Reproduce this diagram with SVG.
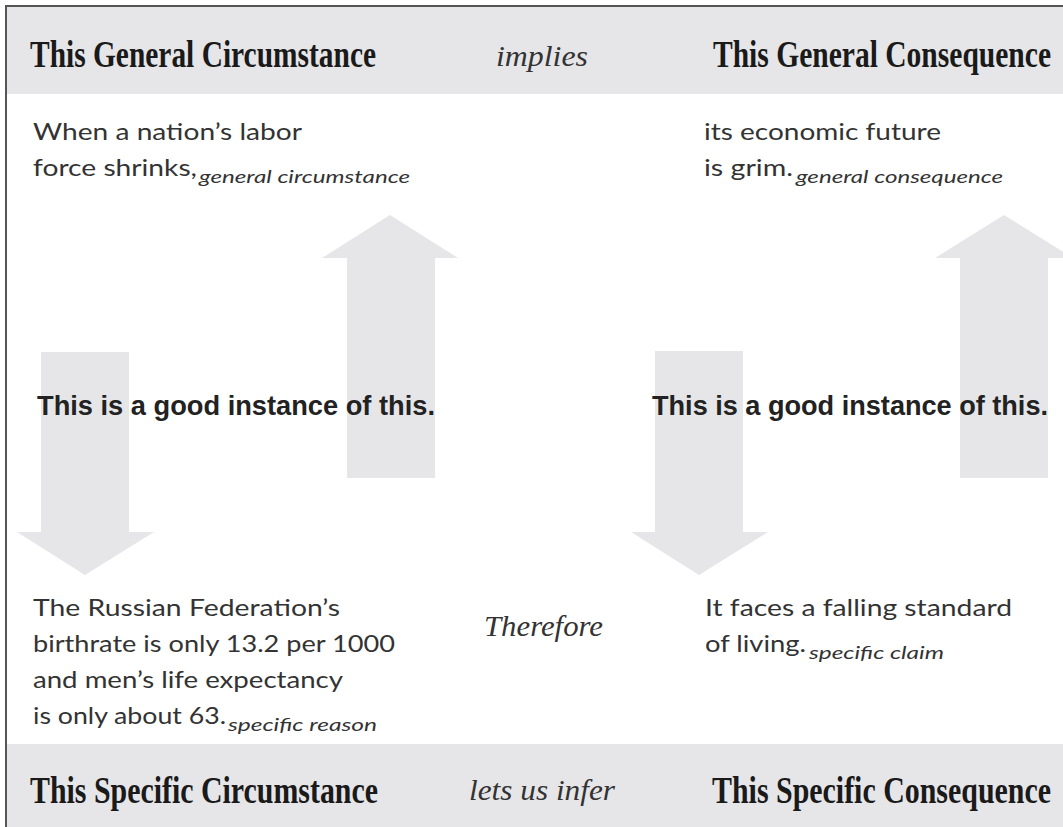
<svg xmlns="http://www.w3.org/2000/svg" width="1063" height="827" viewBox="0 0 1063 827">
<style>
.band{fill:#e6e6e8}
.arrow{fill:#e6e6e8}
.hdr{font-family:"Liberation Serif",serif;font-weight:bold;font-size:37px;fill:#1a1a1a}
.conn{font-family:"Liberation Serif",serif;font-style:italic;font-size:30px;fill:#333}
.body{font-family:Lato,"Open Sans",sans-serif;font-size:24px;fill:#333}
.sub{font-family:Lato,"Open Sans",sans-serif;font-style:italic;font-size:18px;fill:#333}
.inst{font-family:"Liberation Sans",Arial,sans-serif;font-weight:bold;font-size:28px;fill:#222}
</style>
<rect x="0" y="0" width="1063" height="827" fill="#fff"/>
<rect class="band" x="7" y="7" width="1056" height="87"/>
<rect class="band" x="7" y="744" width="1056" height="83"/>
<path d="M6,827 V6 H1063" fill="none" stroke="#555" stroke-width="2"/>

<g id="connectors">
<polygon class="arrow" points="390,215 458,258 435,258 435,478 347,478 347,258 322,258"/>
<polygon class="arrow" points="41,352 129,352 129,532 154,532 85,575 17,532 41,532"/>
<polygon class="arrow" points="655,351 743,351 743,532 768,532 699,575 631,532 655,532"/>
<polygon class="arrow" points="1004,215 1073,258 1048,258 1048,478 960,478 960,258 935,258"/>
</g>

<g id="header-top">
<g transform="translate(30,67) scale(0.8,1)"><text class="hdr" x="0" y="0" textLength="432.5" lengthAdjust="spacingAndGlyphs">This General Circumstance</text></g>
<text class="conn" x="496" y="66" textLength="92" lengthAdjust="spacingAndGlyphs">implies</text>
<g transform="translate(713,67) scale(0.8,1)"><text class="hdr" x="0" y="0" textLength="422.5" lengthAdjust="spacingAndGlyphs">This General Consequence</text></g>
</g>

<g id="general-circumstance">
<text class="body" x="33" y="140" textLength="269" lengthAdjust="spacingAndGlyphs">When a nation’s labor</text>
<text class="body" x="33" y="176" textLength="164" lengthAdjust="spacingAndGlyphs">force shrinks,</text>
<text class="sub" x="199" y="183" textLength="211" lengthAdjust="spacingAndGlyphs">general circumstance</text>
</g>

<g id="general-consequence">
<text class="body" x="704" y="140" textLength="237" lengthAdjust="spacingAndGlyphs">its economic future</text>
<text class="body" x="704" y="176" textLength="89" lengthAdjust="spacingAndGlyphs">is grim.</text>
<text class="sub" x="796" y="183" textLength="207" lengthAdjust="spacingAndGlyphs">general consequence</text>
</g>

<g id="instance-left">
<text class="inst" x="37" y="415" textLength="398" lengthAdjust="spacingAndGlyphs">This is a good instance of this.</text>
</g>
<g id="instance-right">
<text class="inst" x="652" y="415" textLength="396" lengthAdjust="spacingAndGlyphs">This is a good instance of this.</text>
</g>

<g id="specific-reason">
<text class="body" x="33" y="616" textLength="307" lengthAdjust="spacingAndGlyphs">The Russian Federation’s</text>
<text class="body" x="33" y="652" textLength="362" lengthAdjust="spacingAndGlyphs">birthrate is only 13.2 per 1000</text>
<text class="body" x="33" y="688" textLength="310" lengthAdjust="spacingAndGlyphs">and men’s life expectancy</text>
<text class="body" x="33" y="724" textLength="193" lengthAdjust="spacingAndGlyphs">is only about 63.</text>
<text class="sub" x="228" y="731" textLength="149" lengthAdjust="spacingAndGlyphs">specific reason</text>
</g>

<g id="therefore">
<text class="conn" x="484" y="636" textLength="119" lengthAdjust="spacingAndGlyphs">Therefore</text>
</g>

<g id="specific-claim">
<text class="body" x="705" y="616" textLength="307" lengthAdjust="spacingAndGlyphs">It faces a falling standard</text>
<text class="body" x="705" y="652" textLength="101" lengthAdjust="spacingAndGlyphs">of living.</text>
<text class="sub" x="809" y="659" textLength="135" lengthAdjust="spacingAndGlyphs">specific claim</text>
</g>

<g id="header-bottom">
<g transform="translate(30,803) scale(0.8,1)"><text class="hdr" x="0" y="0" textLength="435" lengthAdjust="spacingAndGlyphs">This Specific Circumstance</text></g>
<text class="conn" x="469" y="800" textLength="146" lengthAdjust="spacingAndGlyphs">lets us infer</text>
<g transform="translate(712,803) scale(0.8,1)"><text class="hdr" x="0" y="0" textLength="423.75" lengthAdjust="spacingAndGlyphs">This Specific Consequence</text></g>
</g>
</svg>
